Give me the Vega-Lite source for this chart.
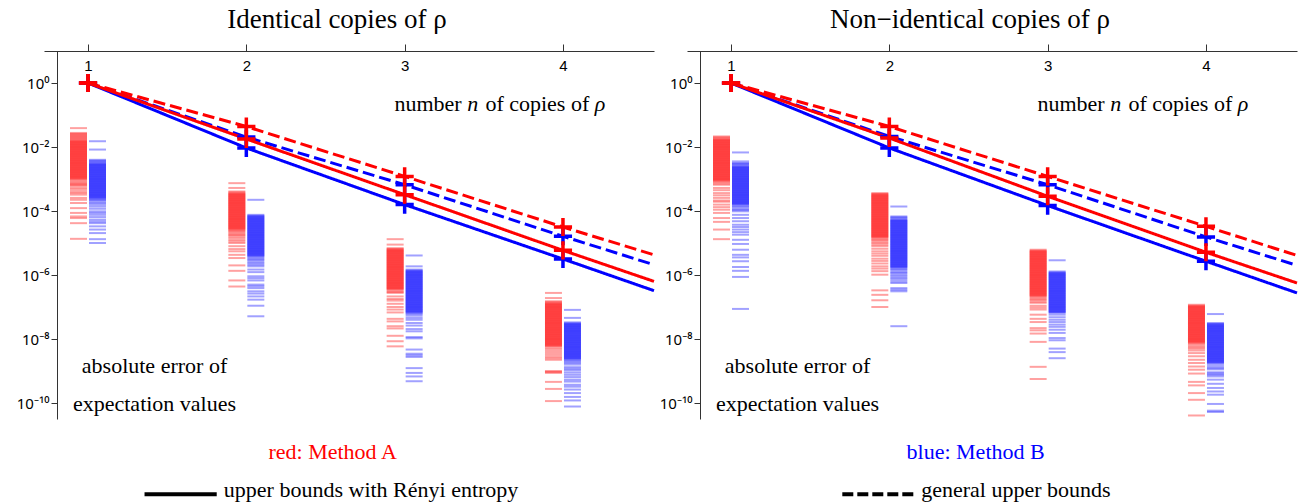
{
"$schema": "https://vega.github.io/schema/vega-lite/v6.json",
"padding": {"left": 16, "top": 5, "right": 0, "bottom": 0},
"background": "white",
"config": {"view": {"stroke": null}},
"spacing": 33,
"bounds": "flush",
"datasets": {
"lines_I": [
{"method":"B","bound":"renyi","n":1,"log10err":0},{"method":"B","bound":"renyi","n":2,"log10err":-2.03},{"method":"B","bound":"renyi","n":3,"log10err":-3.8},{"method":"B","bound":"renyi","n":4,"log10err":-5.5},{"method":"B","bound":"renyi","n":4.575,"log10err":-6.49},
{"method":"B","bound":"general","n":1,"log10err":0},{"method":"B","bound":"general","n":2,"log10err":-1.69},{"method":"B","bound":"general","n":3,"log10err":-3.18},{"method":"B","bound":"general","n":4,"log10err":-4.79},{"method":"B","bound":"general","n":4.575,"log10err":-5.68},
{"method":"A","bound":"renyi","n":1,"log10err":0},{"method":"A","bound":"renyi","n":2,"log10err":-1.75},{"method":"A","bound":"renyi","n":3,"log10err":-3.49},{"method":"A","bound":"renyi","n":4,"log10err":-5.23},{"method":"A","bound":"renyi","n":4.575,"log10err":-6.2},
{"method":"A","bound":"general","n":1,"log10err":0},{"method":"A","bound":"general","n":2,"log10err":-1.36},{"method":"A","bound":"general","n":3,"log10err":-2.92},{"method":"A","bound":"general","n":4,"log10err":-4.5},{"method":"A","bound":"general","n":4.575,"log10err":-5.37}
],
"lines_N": [
{"method":"B","bound":"renyi","n":1,"log10err":0},{"method":"B","bound":"renyi","n":2,"log10err":-2.03},{"method":"B","bound":"renyi","n":3,"log10err":-3.83},{"method":"B","bound":"renyi","n":4,"log10err":-5.57},{"method":"B","bound":"renyi","n":4.575,"log10err":-6.56},
{"method":"B","bound":"general","n":1,"log10err":0},{"method":"B","bound":"general","n":2,"log10err":-1.67},{"method":"B","bound":"general","n":3,"log10err":-3.18},{"method":"B","bound":"general","n":4,"log10err":-4.81},{"method":"B","bound":"general","n":4.575,"log10err":-5.7},
{"method":"A","bound":"renyi","n":1,"log10err":0},{"method":"A","bound":"renyi","n":2,"log10err":-1.72},{"method":"A","bound":"renyi","n":3,"log10err":-3.54},{"method":"A","bound":"renyi","n":4,"log10err":-5.29},{"method":"A","bound":"renyi","n":4.575,"log10err":-6.25},
{"method":"A","bound":"general","n":1,"log10err":0},{"method":"A","bound":"general","n":2,"log10err":-1.36},{"method":"A","bound":"general","n":3,"log10err":-2.92},{"method":"A","bound":"general","n":4,"log10err":-4.48},{"method":"A","bound":"general","n":4.575,"log10err":-5.39}
],
"err_I": [
{"n":1,"method":"A","log10err":[-1.41,-1.56,-1.59,-1.62,-1.65,-1.68,-1.71,-1.74,-1.77,-1.8,-1.82,-1.84,-1.86,-1.88,-1.9,-1.92,-1.94,-1.96,-1.98,-2,-2.02,-2.04,-2.06,-2.08,-2.1,-2.12,-2.14,-2.16,-2.18,-2.2,-2.22,-2.24,-2.26,-2.28,-2.3,-2.32,-2.34,-2.36,-2.38,-2.4,-2.42,-2.44,-2.46,-2.48,-2.5,-2.52,-2.54,-2.56,-2.58,-2.6,-2.62,-2.64,-2.66,-2.68,-2.7,-2.72,-2.74,-2.76,-2.78,-2.8,-2.82,-2.84,-2.86,-2.88,-2.9,-2.92,-2.94,-2.96,-2.98,-3,-3.04,-3.08,-3.12,-3.16,-3.18,-3.22,-3.28,-3.33,-3.39,-3.44,-3.49,-3.59,-3.65,-3.75,-3.91,-4.06,-4.17,-4.22,-4.38,-4.87]},
{"n":1,"method":"B","log10err":[-1.82,-2.08,-2.4,-2.43,-2.46,-2.49,-2.52,-2.54,-2.56,-2.58,-2.6,-2.62,-2.64,-2.66,-2.68,-2.7,-2.72,-2.74,-2.76,-2.78,-2.8,-2.82,-2.84,-2.86,-2.88,-2.9,-2.92,-2.94,-2.96,-2.98,-3,-3.02,-3.04,-3.06,-3.08,-3.1,-3.12,-3.14,-3.16,-3.18,-3.2,-3.22,-3.24,-3.26,-3.28,-3.3,-3.32,-3.34,-3.36,-3.38,-3.4,-3.42,-3.44,-3.46,-3.48,-3.5,-3.52,-3.54,-3.56,-3.58,-3.6,-3.63,-3.66,-3.7,-3.75,-3.8,-3.86,-3.93,-4.01,-4.06,-4.12,-4.19,-4.27,-4.33,-4.38,-4.48,-4.58,-4.69,-4.88,-5]},
{"n":2,"method":"A","log10err":[-3.13,-3.28,-3.39,-3.42,-3.45,-3.47,-3.49,-3.51,-3.53,-3.55,-3.57,-3.59,-3.61,-3.63,-3.65,-3.67,-3.69,-3.71,-3.73,-3.75,-3.77,-3.79,-3.81,-3.83,-3.85,-3.87,-3.89,-3.91,-3.93,-3.95,-3.97,-3.99,-4.01,-4.03,-4.05,-4.07,-4.09,-4.11,-4.13,-4.15,-4.17,-4.19,-4.21,-4.23,-4.25,-4.27,-4.29,-4.31,-4.33,-4.35,-4.37,-4.39,-4.41,-4.43,-4.45,-4.47,-4.49,-4.51,-4.53,-4.55,-4.57,-4.6,-4.63,-4.67,-4.71,-4.75,-4.79,-4.84,-4.9,-4.95,-5,-5.1,-5.19,-5.26,-5.37,-5.47,-5.7,-5.87,-6.17,-6.36]},
{"n":2,"method":"B","log10err":[-3.65,-4.12,-4.15,-4.17,-4.19,-4.21,-4.23,-4.25,-4.27,-4.29,-4.31,-4.33,-4.35,-4.37,-4.39,-4.41,-4.43,-4.45,-4.47,-4.49,-4.51,-4.53,-4.55,-4.57,-4.59,-4.61,-4.63,-4.65,-4.67,-4.69,-4.71,-4.73,-4.75,-4.77,-4.79,-4.81,-4.83,-4.85,-4.87,-4.89,-4.91,-4.93,-4.95,-4.97,-4.99,-5.01,-5.03,-5.05,-5.07,-5.09,-5.11,-5.13,-5.15,-5.17,-5.19,-5.21,-5.23,-5.25,-5.27,-5.29,-5.31,-5.33,-5.35,-5.37,-5.39,-5.41,-5.45,-5.49,-5.53,-5.58,-5.63,-5.68,-5.73,-5.83,-5.91,-6.04,-6.1,-6.17,-6.3,-6.35,-6.41,-6.51,-6.58,-6.67,-6.77,-6.96,-7.29]},
{"n":3,"method":"A","log10err":[-4.88,-5.05,-5.16,-5.19,-5.21,-5.23,-5.25,-5.27,-5.29,-5.31,-5.33,-5.35,-5.37,-5.39,-5.41,-5.43,-5.45,-5.47,-5.49,-5.51,-5.53,-5.55,-5.57,-5.59,-5.61,-5.63,-5.65,-5.67,-5.69,-5.71,-5.73,-5.75,-5.77,-5.79,-5.81,-5.83,-5.85,-5.87,-5.89,-5.91,-5.93,-5.95,-5.97,-5.99,-6.01,-6.03,-6.05,-6.07,-6.09,-6.11,-6.13,-6.15,-6.17,-6.19,-6.21,-6.23,-6.25,-6.27,-6.29,-6.31,-6.33,-6.35,-6.37,-6.39,-6.41,-6.43,-6.45,-6.49,-6.53,-6.56,-6.67,-6.75,-6.8,-6.9,-7,-7.08,-7.17,-7.37,-7.45,-7.6,-7.67,-7.9,-8.07,-8.23]},
{"n":3,"method":"B","log10err":[-5.39,-5.73,-5.83,-5.86,-5.88,-5.9,-5.92,-5.94,-5.96,-5.98,-6,-6.02,-6.04,-6.06,-6.08,-6.1,-6.12,-6.14,-6.16,-6.18,-6.2,-6.22,-6.24,-6.26,-6.28,-6.3,-6.32,-6.34,-6.36,-6.38,-6.4,-6.42,-6.44,-6.46,-6.48,-6.5,-6.52,-6.54,-6.56,-6.58,-6.6,-6.62,-6.64,-6.66,-6.68,-6.7,-6.72,-6.74,-6.76,-6.78,-6.8,-6.82,-6.84,-6.86,-6.88,-6.9,-6.92,-6.94,-6.96,-6.98,-7,-7.02,-7.04,-7.06,-7.08,-7.1,-7.12,-7.14,-7.16,-7.18,-7.22,-7.27,-7.34,-7.4,-7.5,-7.58,-7.69,-7.76,-7.94,-7.98,-8.33,-8.46,-8.51,-8.56,-8.91,-9.06,-9.17,-9.32]},
{"n":4,"method":"A","log10err":[-6.56,-6.72,-6.82,-6.85,-6.88,-6.9,-6.92,-6.94,-6.96,-6.98,-7,-7.02,-7.04,-7.06,-7.08,-7.1,-7.12,-7.14,-7.16,-7.18,-7.2,-7.22,-7.24,-7.26,-7.28,-7.3,-7.32,-7.34,-7.36,-7.38,-7.4,-7.42,-7.44,-7.46,-7.48,-7.5,-7.52,-7.54,-7.56,-7.58,-7.6,-7.62,-7.64,-7.66,-7.68,-7.7,-7.72,-7.74,-7.76,-7.78,-7.8,-7.82,-7.84,-7.86,-7.88,-7.9,-7.92,-7.94,-7.96,-7.98,-8,-8.02,-8.04,-8.06,-8.08,-8.1,-8.12,-8.14,-8.16,-8.18,-8.2,-8.22,-8.26,-8.31,-8.37,-8.43,-8.49,-8.55,-8.6,-8.65,-9,-9.03,-9.06,-9.34,-9.56,-9.94]},
{"n":4,"method":"B","log10err":[-7.09,-7.34,-7.48,-7.51,-7.53,-7.55,-7.57,-7.59,-7.61,-7.63,-7.65,-7.67,-7.69,-7.71,-7.73,-7.75,-7.77,-7.79,-7.81,-7.83,-7.85,-7.87,-7.89,-7.91,-7.93,-7.95,-7.97,-7.99,-8.01,-8.03,-8.05,-8.07,-8.09,-8.11,-8.13,-8.15,-8.17,-8.19,-8.21,-8.23,-8.25,-8.27,-8.29,-8.31,-8.33,-8.35,-8.37,-8.39,-8.41,-8.43,-8.45,-8.47,-8.49,-8.51,-8.53,-8.55,-8.57,-8.59,-8.61,-8.63,-8.67,-8.7,-8.75,-8.8,-8.88,-8.93,-8.98,-9.05,-9.12,-9.19,-9.27,-9.33,-9.43,-9.49,-9.58,-9.69,-9.81,-9.92,-10.11]}
],
"err_N": [
{"n":1,"method":"A","log10err":[-1.67,-1.7,-1.73,-1.76,-1.78,-1.8,-1.82,-1.84,-1.86,-1.88,-1.9,-1.92,-1.94,-1.96,-1.98,-2,-2.02,-2.04,-2.06,-2.08,-2.1,-2.12,-2.14,-2.16,-2.18,-2.2,-2.22,-2.24,-2.26,-2.28,-2.3,-2.32,-2.34,-2.36,-2.38,-2.4,-2.42,-2.44,-2.46,-2.48,-2.5,-2.52,-2.54,-2.56,-2.58,-2.6,-2.62,-2.64,-2.66,-2.68,-2.7,-2.72,-2.74,-2.76,-2.78,-2.8,-2.82,-2.84,-2.86,-2.88,-2.9,-2.92,-2.94,-2.96,-2.98,-3,-3.02,-3.04,-3.06,-3.1,-3.14,-3.18,-3.28,-3.35,-3.44,-3.51,-3.59,-3.67,-3.71,-3.8,-3.88,-3.96,-4.06,-4.22,-4.34,-4.58,-4.88]},
{"n":1,"method":"B","log10err":[-2.17,-2.45,-2.5,-2.53,-2.56,-2.6,-2.62,-2.64,-2.66,-2.68,-2.7,-2.72,-2.74,-2.76,-2.78,-2.8,-2.82,-2.84,-2.86,-2.88,-2.9,-2.92,-2.94,-2.96,-2.98,-3,-3.02,-3.04,-3.06,-3.08,-3.1,-3.12,-3.14,-3.16,-3.18,-3.2,-3.22,-3.24,-3.26,-3.28,-3.3,-3.32,-3.34,-3.36,-3.38,-3.4,-3.42,-3.44,-3.46,-3.48,-3.5,-3.52,-3.54,-3.56,-3.58,-3.6,-3.62,-3.64,-3.66,-3.68,-3.7,-3.72,-3.74,-3.76,-3.78,-3.8,-3.84,-3.88,-3.93,-3.97,-4.01,-4.12,-4.22,-4.32,-4.43,-4.5,-4.58,-4.66,-4.74,-4.9,-5.03,-5.21,-5.37,-5.45,-5.57,-5.75,-5.87,-6.06,-7.06]},
{"n":2,"method":"A","log10err":[-3.44,-3.47,-3.49,-3.51,-3.53,-3.55,-3.57,-3.59,-3.61,-3.63,-3.65,-3.67,-3.69,-3.71,-3.73,-3.75,-3.77,-3.79,-3.81,-3.83,-3.85,-3.87,-3.89,-3.91,-3.93,-3.95,-3.97,-3.99,-4.01,-4.03,-4.05,-4.07,-4.09,-4.11,-4.13,-4.15,-4.17,-4.19,-4.21,-4.23,-4.25,-4.27,-4.29,-4.31,-4.33,-4.35,-4.37,-4.39,-4.41,-4.43,-4.45,-4.47,-4.49,-4.51,-4.53,-4.55,-4.57,-4.59,-4.61,-4.63,-4.65,-4.67,-4.69,-4.71,-4.73,-4.75,-4.77,-4.79,-4.81,-4.83,-4.87,-4.91,-4.95,-5,-5.05,-5.1,-5.18,-5.26,-5.33,-5.4,-5.49,-5.56,-5.64,-5.73,-5.8,-5.88,-5.99,-6.48,-6.62,-6.79,-7]},
{"n":2,"method":"B","log10err":[-3.86,-4.17,-4.2,-4.23,-4.27,-4.29,-4.31,-4.33,-4.35,-4.37,-4.39,-4.41,-4.43,-4.45,-4.47,-4.49,-4.51,-4.53,-4.55,-4.57,-4.59,-4.61,-4.63,-4.65,-4.67,-4.69,-4.71,-4.73,-4.75,-4.77,-4.79,-4.81,-4.83,-4.85,-4.87,-4.89,-4.91,-4.93,-4.95,-4.97,-4.99,-5.01,-5.03,-5.05,-5.07,-5.09,-5.11,-5.13,-5.15,-5.17,-5.19,-5.21,-5.23,-5.25,-5.27,-5.29,-5.31,-5.33,-5.35,-5.37,-5.39,-5.41,-5.43,-5.45,-5.47,-5.49,-5.51,-5.53,-5.55,-5.57,-5.59,-5.61,-5.63,-5.65,-5.67,-5.69,-5.71,-5.73,-5.75,-5.77,-5.81,-5.85,-5.9,-5.94,-5.99,-6.04,-6.09,-6.14,-6.2,-6.25,-6.41,-6.46,-6.51,-7.6]},
{"n":3,"method":"A","log10err":[-5.21,-5.24,-5.26,-5.28,-5.3,-5.32,-5.34,-5.36,-5.38,-5.4,-5.42,-5.44,-5.46,-5.48,-5.5,-5.52,-5.54,-5.56,-5.58,-5.6,-5.62,-5.64,-5.66,-5.68,-5.7,-5.72,-5.74,-5.76,-5.78,-5.8,-5.82,-5.84,-5.86,-5.88,-5.9,-5.92,-5.94,-5.96,-5.98,-6,-6.02,-6.04,-6.06,-6.08,-6.1,-6.12,-6.14,-6.16,-6.18,-6.2,-6.22,-6.24,-6.26,-6.28,-6.3,-6.32,-6.34,-6.36,-6.38,-6.4,-6.42,-6.44,-6.46,-6.48,-6.5,-6.52,-6.54,-6.56,-6.58,-6.6,-6.62,-6.64,-6.66,-6.7,-6.74,-6.78,-6.83,-6.87,-6.96,-7.02,-7.08,-7.24,-7.37,-7.47,-7.66,-7.73,-7.83,-8.09,-8.87,-9.25]},
{"n":3,"method":"B","log10err":[-5.54,-5.89,-5.92,-5.94,-5.96,-5.98,-6,-6.02,-6.04,-6.06,-6.08,-6.1,-6.12,-6.14,-6.16,-6.18,-6.2,-6.22,-6.24,-6.26,-6.28,-6.3,-6.32,-6.34,-6.36,-6.38,-6.4,-6.42,-6.44,-6.46,-6.48,-6.5,-6.52,-6.54,-6.56,-6.58,-6.6,-6.62,-6.64,-6.66,-6.68,-6.7,-6.72,-6.74,-6.76,-6.78,-6.8,-6.82,-6.84,-6.86,-6.88,-6.9,-6.92,-6.94,-6.96,-6.98,-7,-7.02,-7.04,-7.06,-7.08,-7.1,-7.12,-7.14,-7.16,-7.18,-7.24,-7.32,-7.4,-7.47,-7.55,-7.62,-7.71,-7.81,-7.97,-8.04,-8.3,-8.41,-8.6]},
{"n":4,"method":"A","log10err":[-6.93,-6.96,-6.98,-7,-7.02,-7.04,-7.06,-7.08,-7.1,-7.12,-7.14,-7.16,-7.18,-7.2,-7.22,-7.24,-7.26,-7.28,-7.3,-7.32,-7.34,-7.36,-7.38,-7.4,-7.42,-7.44,-7.46,-7.48,-7.5,-7.52,-7.54,-7.56,-7.58,-7.6,-7.62,-7.64,-7.66,-7.68,-7.7,-7.72,-7.74,-7.76,-7.78,-7.8,-7.82,-7.84,-7.86,-7.88,-7.9,-7.92,-7.94,-7.96,-7.98,-8,-8.02,-8.04,-8.06,-8.08,-8.1,-8.12,-8.16,-8.21,-8.26,-8.3,-8.36,-8.44,-8.54,-8.65,-8.75,-8.86,-8.96,-9.08,-9.34,-9.45,-9.69,-9.9,-10.39]},
{"n":4,"method":"B","log10err":[-7.22,-7.5,-7.53,-7.55,-7.57,-7.59,-7.61,-7.63,-7.65,-7.67,-7.69,-7.71,-7.73,-7.75,-7.77,-7.79,-7.81,-7.83,-7.85,-7.87,-7.89,-7.91,-7.93,-7.95,-7.97,-7.99,-8.01,-8.03,-8.05,-8.07,-8.09,-8.11,-8.13,-8.15,-8.17,-8.19,-8.21,-8.23,-8.25,-8.27,-8.29,-8.31,-8.33,-8.35,-8.37,-8.39,-8.41,-8.43,-8.45,-8.47,-8.49,-8.51,-8.53,-8.55,-8.57,-8.59,-8.61,-8.63,-8.65,-8.67,-8.69,-8.71,-8.73,-8.75,-8.8,-8.86,-8.91,-8.95,-9.04,-9.08,-9.12,-9.17,-9.27,-9.4,-9.53,-9.64,-9.74,-10.03,-10.24,-10.28]}
]
},
"hconcat": [
{
"width": 610, "height": 368,
"title": {"text": "Identical copies of ρ", "font": "Liberation Serif", "fontSize": 27, "fontWeight": "normal", "color": "black", "offset": 10, "frame": "group", "anchor": "middle", "dx": -12},
"layer": [
{"data": {"name": "err_I"}, "transform": [{"flatten": ["log10err"]}, {"filter": "datum.method === 'A'"}],
 "mark": {"type": "tick", "orient": "horizontal", "size": 17, "thickness": 2, "opacity": 0.37, "xOffset": -9.5},
 "encoding": {
  "x": {"field": "n", "type": "quantitative", "title": null, "scale": {"domain": [0.722, 4.575], "nice": false, "zero": false},
        "axis": {"orient": "top", "values": [1,2,3,4], "format": "d", "title": null, "grid": false, "tickSize": 7, "tickColor": "#333", "domainColor": "#333", "labelFont": "Liberation Sans", "labelFontSize": 15, "labelColor": "#000", "labelPadding": -21, "labelBaseline": "middle", "labelFlush": false}},
  "y": {"field": "log10err", "type": "quantitative", "title": null, "scale": {"domain": [-10.5, 1], "nice": false, "zero": false},
        "axis": {"orient": "left", "offset": -13, "values": [-10,-9,-8,-7,-6,-5,-4,-3,-2,-1,0], "title": null, "grid": false, "tickSize": 6, "tickColor": "#333", "domainColor": "#333", "labelFont": "Noto Sans", "labelFontSize": 15, "labelColor": "#000", "labelPadding": 2, "labelFlush": false, "labelOverlap": false,
                 "labelExpr": "datum.value % 2 != 0 ? '' : datum.value == 0 ? '10⁰' : datum.value == -2 ? '10⁻²' : datum.value == -4 ? '10⁻⁴' : datum.value == -6 ? '10⁻⁶' : datum.value == -8 ? '10⁻⁸' : '10⁻¹⁰'"}},
  "color": {"field": "method", "type": "nominal", "scale": {"domain": ["A","B"], "range": ["#ff0000","#0000ff"]}, "legend": null}
 }},
{"data": {"name": "err_I"}, "transform": [{"flatten": ["log10err"]}, {"filter": "datum.method === 'B'"}],
 "mark": {"type": "tick", "orient": "horizontal", "size": 17, "thickness": 2, "opacity": 0.37, "xOffset": 9.5},
 "encoding": {
  "x": {"field": "n", "type": "quantitative", "title": null},
  "y": {"field": "log10err", "type": "quantitative", "title": null},
  "color": {"field": "method", "type": "nominal", "legend": null}
 }},
{"data": {"name": "lines_I"},
 "mark": {"type": "line", "strokeWidth": 3, "strokeCap": "butt"},
 "encoding": {
  "x": {"field": "n", "type": "quantitative", "title": null},
  "y": {"field": "log10err", "type": "quantitative", "title": null},
  "color": {"field": "method", "type": "nominal", "legend": null},
  "strokeDash": {"field": "bound", "type": "nominal", "scale": {"domain": ["renyi","general"], "range": [[1,0],[12,5]]}, "legend": null}
 }},
{"data": {"name": "lines_I"}, "transform": [{"filter": {"field": "n", "oneOf": [1,2,3,4]}}],
 "mark": {"type": "point", "shape": "M-1,0L1,0M0,-1L0,1", "filled": false, "strokeWidth": 3.5, "size": 330, "opacity": 1, "strokeCap": "butt"},
 "encoding": {
  "x": {"field": "n", "type": "quantitative", "title": null},
  "y": {"field": "log10err", "type": "quantitative", "title": null},
  "color": {"field": "method", "type": "nominal", "legend": null}
 }},
{"data": {"values": [{}]}, "mark": {"type": "text", "text": "number", "align": "right", "baseline": "alphabetic", "font": "Liberation Serif", "fontSize": 22, "color": "black"},
 "encoding": {"x": {"datum": 3.36, "type": "quantitative", "title": null}, "y": {"datum": -0.866, "type": "quantitative", "title": null}}},
{"data": {"values": [{}]}, "mark": {"type": "text", "text": "n", "align": "center", "baseline": "alphabetic", "font": "Liberation Serif", "fontStyle": "italic", "fontSize": 22, "color": "black"},
 "encoding": {"x": {"datum": 3.43, "type": "quantitative", "title": null}, "y": {"datum": -0.866, "type": "quantitative", "title": null}}},
{"data": {"values": [{}]}, "mark": {"type": "text", "text": "of copies of", "align": "left", "baseline": "alphabetic", "font": "Liberation Serif", "fontSize": 22, "color": "black"},
 "encoding": {"x": {"datum": 3.51, "type": "quantitative", "title": null}, "y": {"datum": -0.866, "type": "quantitative", "title": null}}},
{"data": {"values": [{}]}, "mark": {"type": "text", "text": "ρ", "align": "left", "baseline": "alphabetic", "font": "Liberation Serif", "fontStyle": "italic", "fontSize": 22, "color": "black"},
 "encoding": {"x": {"datum": 4.2, "type": "quantitative", "title": null}, "y": {"datum": -0.866, "type": "quantitative", "title": null}}},
{"data": {"values": [{}]}, "mark": {"type": "text", "text": "absolute error of", "align": "center", "baseline": "alphabetic", "font": "Liberation Serif", "fontSize": 22, "color": "black"},
 "encoding": {"x": {"datum": 1.42, "type": "quantitative", "title": null}, "y": {"datum": -9.06, "type": "quantitative", "title": null}}},
{"data": {"values": [{}]}, "mark": {"type": "text", "text": "expectation values", "align": "center", "baseline": "alphabetic", "font": "Liberation Serif", "fontSize": 22, "color": "black"},
 "encoding": {"x": {"datum": 1.42, "type": "quantitative", "title": null}, "y": {"datum": -10.26, "type": "quantitative", "title": null}}},
{"data": {"values": [{}]}, "mark": {"type": "text", "text": "red: Method A", "align": "center", "baseline": "middle", "font": "Liberation Serif", "fontSize": 22, "color": "#ff0000"},
 "encoding": {"x": {"datum": 2.545, "type": "quantitative", "title": null}, "y": {"datum": -11.52, "type": "quantitative", "title": null}}},
{"data": {"values": [{}]}, "mark": {"type": "rule", "strokeWidth": 4, "color": "black", "strokeCap": "butt"},
 "encoding": {"x": {"datum": 1.357, "type": "quantitative", "title": null}, "x2": {"datum": 1.813}, "y": {"datum": -12.85, "type": "quantitative", "title": null}}},
{"data": {"values": [{}]}, "mark": {"type": "text", "text": "upper bounds with Rényi entropy", "align": "left", "baseline": "middle", "font": "Liberation Serif", "fontSize": 22, "color": "black"},
 "encoding": {"x": {"datum": 1.858, "type": "quantitative", "title": null}, "y": {"datum": -12.72, "type": "quantitative", "title": null}}}
]
},
{
"width": 610, "height": 368,
"title": {"text": "Non−identical copies of ρ", "font": "Liberation Serif", "fontSize": 27, "fontWeight": "normal", "color": "black", "offset": 10, "frame": "group", "anchor": "middle", "dx": -22},
"layer": [
{"data": {"name": "err_N"}, "transform": [{"flatten": ["log10err"]}, {"filter": "datum.method === 'A'"}],
 "mark": {"type": "tick", "orient": "horizontal", "size": 17, "thickness": 2, "opacity": 0.37, "xOffset": -9.5},
 "encoding": {
  "x": {"field": "n", "type": "quantitative", "title": null, "scale": {"domain": [0.722, 4.575], "nice": false, "zero": false},
        "axis": {"orient": "top", "values": [1,2,3,4], "format": "d", "title": null, "grid": false, "tickSize": 7, "tickColor": "#333", "domainColor": "#333", "labelFont": "Liberation Sans", "labelFontSize": 15, "labelColor": "#000", "labelPadding": -21, "labelBaseline": "middle", "labelFlush": false}},
  "y": {"field": "log10err", "type": "quantitative", "title": null, "scale": {"domain": [-10.5, 1], "nice": false, "zero": false},
        "axis": {"orient": "left", "offset": -13, "values": [-10,-9,-8,-7,-6,-5,-4,-3,-2,-1,0], "title": null, "grid": false, "tickSize": 6, "tickColor": "#333", "domainColor": "#333", "labelFont": "Noto Sans", "labelFontSize": 15, "labelColor": "#000", "labelPadding": 2, "labelFlush": false, "labelOverlap": false,
                 "labelExpr": "datum.value % 2 != 0 ? '' : datum.value == 0 ? '10⁰' : datum.value == -2 ? '10⁻²' : datum.value == -4 ? '10⁻⁴' : datum.value == -6 ? '10⁻⁶' : datum.value == -8 ? '10⁻⁸' : '10⁻¹⁰'"}},
  "color": {"field": "method", "type": "nominal", "scale": {"domain": ["A","B"], "range": ["#ff0000","#0000ff"]}, "legend": null}
 }},
{"data": {"name": "err_N"}, "transform": [{"flatten": ["log10err"]}, {"filter": "datum.method === 'B'"}],
 "mark": {"type": "tick", "orient": "horizontal", "size": 17, "thickness": 2, "opacity": 0.37, "xOffset": 9.5},
 "encoding": {
  "x": {"field": "n", "type": "quantitative", "title": null},
  "y": {"field": "log10err", "type": "quantitative", "title": null},
  "color": {"field": "method", "type": "nominal", "legend": null}
 }},
{"data": {"name": "lines_N"},
 "mark": {"type": "line", "strokeWidth": 3, "strokeCap": "butt"},
 "encoding": {
  "x": {"field": "n", "type": "quantitative", "title": null},
  "y": {"field": "log10err", "type": "quantitative", "title": null},
  "color": {"field": "method", "type": "nominal", "legend": null},
  "strokeDash": {"field": "bound", "type": "nominal", "scale": {"domain": ["renyi","general"], "range": [[1,0],[12,5]]}, "legend": null}
 }},
{"data": {"name": "lines_N"}, "transform": [{"filter": {"field": "n", "oneOf": [1,2,3,4]}}],
 "mark": {"type": "point", "shape": "M-1,0L1,0M0,-1L0,1", "filled": false, "strokeWidth": 3.5, "size": 330, "opacity": 1, "strokeCap": "butt"},
 "encoding": {
  "x": {"field": "n", "type": "quantitative", "title": null},
  "y": {"field": "log10err", "type": "quantitative", "title": null},
  "color": {"field": "method", "type": "nominal", "legend": null}
 }},
{"data": {"values": [{}]}, "mark": {"type": "text", "text": "number", "align": "right", "baseline": "alphabetic", "font": "Liberation Serif", "fontSize": 22, "color": "black"},
 "encoding": {"x": {"datum": 3.36, "type": "quantitative", "title": null}, "y": {"datum": -0.866, "type": "quantitative", "title": null}}},
{"data": {"values": [{}]}, "mark": {"type": "text", "text": "n", "align": "center", "baseline": "alphabetic", "font": "Liberation Serif", "fontStyle": "italic", "fontSize": 22, "color": "black"},
 "encoding": {"x": {"datum": 3.43, "type": "quantitative", "title": null}, "y": {"datum": -0.866, "type": "quantitative", "title": null}}},
{"data": {"values": [{}]}, "mark": {"type": "text", "text": "of copies of", "align": "left", "baseline": "alphabetic", "font": "Liberation Serif", "fontSize": 22, "color": "black"},
 "encoding": {"x": {"datum": 3.51, "type": "quantitative", "title": null}, "y": {"datum": -0.866, "type": "quantitative", "title": null}}},
{"data": {"values": [{}]}, "mark": {"type": "text", "text": "ρ", "align": "left", "baseline": "alphabetic", "font": "Liberation Serif", "fontStyle": "italic", "fontSize": 22, "color": "black"},
 "encoding": {"x": {"datum": 4.2, "type": "quantitative", "title": null}, "y": {"datum": -0.866, "type": "quantitative", "title": null}}},
{"data": {"values": [{}]}, "mark": {"type": "text", "text": "absolute error of", "align": "center", "baseline": "alphabetic", "font": "Liberation Serif", "fontSize": 22, "color": "black"},
 "encoding": {"x": {"datum": 1.42, "type": "quantitative", "title": null}, "y": {"datum": -9.06, "type": "quantitative", "title": null}}},
{"data": {"values": [{}]}, "mark": {"type": "text", "text": "expectation values", "align": "center", "baseline": "alphabetic", "font": "Liberation Serif", "fontSize": 22, "color": "black"},
 "encoding": {"x": {"datum": 1.42, "type": "quantitative", "title": null}, "y": {"datum": -10.26, "type": "quantitative", "title": null}}},
{"data": {"values": [{}]}, "mark": {"type": "text", "text": "blue: Method B", "align": "center", "baseline": "middle", "font": "Liberation Serif", "fontSize": 22, "color": "#0000ff"},
 "encoding": {"x": {"datum": 2.545, "type": "quantitative", "title": null}, "y": {"datum": -11.52, "type": "quantitative", "title": null}}},
{"data": {"values": [{}]}, "mark": {"type": "rule", "strokeWidth": 4, "color": "black", "strokeCap": "butt", "strokeDash": [11, 4]},
 "encoding": {"x": {"datum": 1.703, "type": "quantitative", "title": null}, "x2": {"datum": 2.157}, "y": {"datum": -12.85, "type": "quantitative", "title": null}}},
{"data": {"values": [{}]}, "mark": {"type": "text", "text": "general upper bounds", "align": "left", "baseline": "middle", "font": "Liberation Serif", "fontSize": 22, "color": "black"},
 "encoding": {"x": {"datum": 2.201, "type": "quantitative", "title": null}, "y": {"datum": -12.72, "type": "quantitative", "title": null}}}
]
}
]
}
